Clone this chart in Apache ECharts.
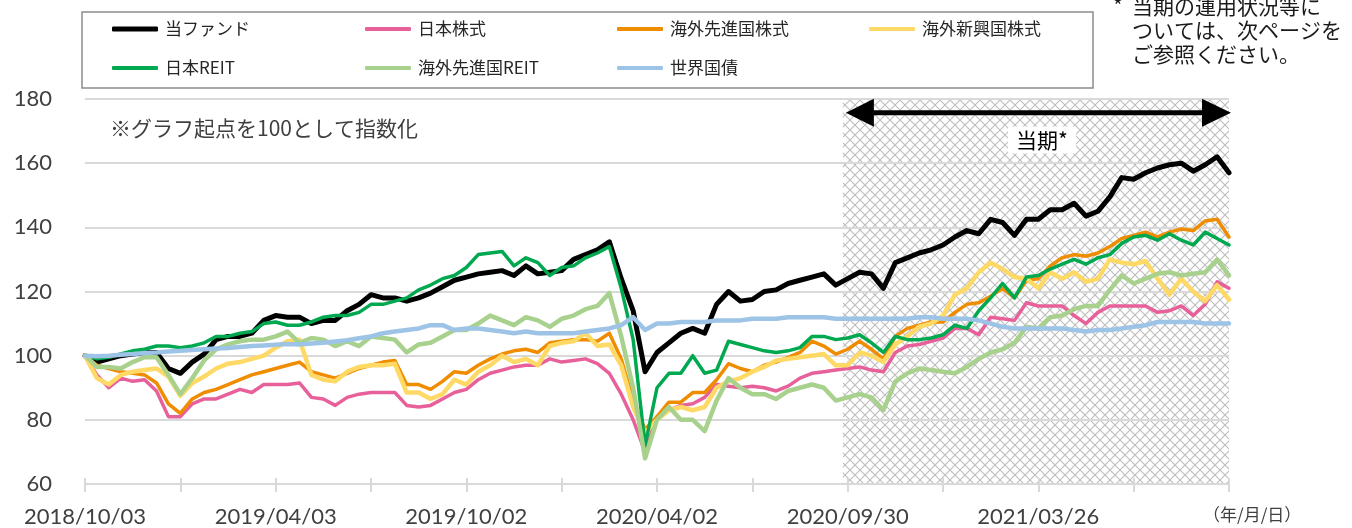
<!DOCTYPE html>
<html><head><meta charset="utf-8">
<script src="https://cdn.jsdelivr.net/npm/echarts@6/dist/echarts.min.js"></script>
<style>html,body{margin:0;padding:0;background:#fff}#c{width:1352px;height:528px}</style>
</head><body><div id="c"></div>
<script>
// x positions are sample indices (0..96); labelled ticks every 16 samples
const labelIndex = [0, 16, 32, 48, 64, 80];
const labelText = ['2018/10/03', '2019/04/03', '2019/10/02', '2020/04/02', '2020/09/30', '2021/03/26'];
const yTicks = [60, 80, 100, 120, 140, 160, 180];
const periodStart = 63.6, periodEnd = 96;  // 当期 (hatched span)
const arrowLevel = 175.7;

const seriesNames = ['当ファンド', '日本株式', '海外先進国株式', '海外新興国株式', '日本REIT', '海外先進国REIT', '世界国債'];

const fund = [100,98,99,100,100.5,101,101,96,94.5,98,100.5,105,106,106,107,111,112.5,112,112,110,111,111,114,116,
119,118,118,117,118,119.5,121.5,123.5,124.5,125.5,126,126.5,125,128,125.5,126,126.5,130,131.5,133,135.5,124,114,95,
101,104,107,108.5,107,116,120,117,117.5,120,120.5,122.5,123.5,124.5,125.5,122,124,126,125.5,121,129,130.5,132,133,
134.5,137,139,138,142.5,141.5,137.5,142.5,142.5,145.5,145.5,147.5,143.5,145,149.5,155.5,155,157,158.5,159.5,160,157.5,159.5,162,157];

const jpStock = [100,94,90,93,92,92.5,89,81,81,85,86.5,86.5,88,89.5,88.5,91,91,91,91.5,87,86.5,84.5,87,88,
88.5,88.5,88.5,84.5,84,84.5,86.5,88.5,89.5,92.5,94.5,95.5,96.5,97,97,99,98,98.5,99,97.5,94.5,88,80,70,
81,83,84.5,85,87,91,90.5,90,90.5,90,89,90.5,93,94.5,95,95.5,96,96.5,95.5,95,101,103,103.5,104.5,
105.5,108.5,108.5,106.5,112,111.5,111,116.5,115.5,115.5,115.5,112.5,110,113.5,115.5,115.5,115.5,115.5,113.5,114,115.5,112.5,116,123,121];

const devStock = [100,97,96,95,94.5,94,91.5,85,82,86.5,88.5,89.5,91,92.5,94,95,96,97,98,95,94,93,94.5,96,
97,98,98.5,91,91,89.5,92,95,94.5,97,99,100.5,101.5,102,101,104,104.5,105,105,104.5,107,99,86,77,
81,85.5,85.5,88.5,88.5,92.5,97.5,96,95,97,98,99.5,101,104.5,103,100.5,102,104.5,102,99,106,108.5,109.5,110.5,
110.5,113.5,116,116.5,118.5,121,118,123.5,124,128,130.5,131.5,131,132,134,136.5,137.5,138.5,137,138.5,139.5,139,142,142.5,137];

const emStock = [100,93,91,94,95,95.5,96,93.5,87.5,91.5,93.5,96,97.5,98,99,100,102.5,104.5,105,94,92.5,92,95,96.5,
97,97,97.5,88.5,88.5,86.5,88,92.5,91,95,97,100,98,99,97,103,104,104.5,107,103,103.5,97,84,76,
80,83,84,83,84,90,92,93,95,96.5,98.5,99,99.5,100,100.5,97,97,101,100,98,103.5,106,109,110,
112.5,119,121,126,129,127,124.5,124,121,126,124,126,123,124,130,129,128.5,129.5,124,119,124,120,117,122,117.5];

const jpReit = [100,99,99.5,100.5,101.5,102,103,103,102.5,103,104,106,106,107,107.5,110,110.5,109.5,109.5,110.5,112,112.5,112.5,113.5,
116,116,117,118,120.5,122,124,125,127.5,131.5,132,132.5,128,130.5,129,125,127.5,128,130.5,132,134,121,105,72,
90,94.5,94.5,100,94.5,95.5,104.5,103.5,102.5,101.5,101,101.5,102.5,106,106,105,105.5,106.5,104,101,106,105,105,105.5,
106.5,109.5,108.5,114,118,122.5,118,124.5,125,127,128.5,130,128.5,130.5,131.5,135,137,137.5,136,138,136,134.5,138.5,136.5,134.5];

const devReit = [100,96.5,96.5,96,98,99.5,99.5,94,88,93,98.5,102,103.5,104.5,105,105,106,107.5,104,105.5,105,103,104.5,103,
106,105.5,105,101,103.5,104,106,108,108,110,112.5,111,109.5,112,111,109,111.5,112.5,114.5,115.5,119.5,106,90,68,
80,84,80,80,76.5,86,93,90,88,88,86.5,89,90,91,90,86,87,88,87,83,92,94.5,96,95.5,
95,94.5,96.5,99,101,102,104,109,108.5,112,112.5,114.5,115.5,115.5,120.5,125,122.5,124,125.5,126,125,125.5,126,130,125];

const wgb = [100,99.8,100,100.3,100.5,100.8,101,101.3,101.5,101.8,102,102.2,102.4,102.7,103,103.2,103.4,103.6,103.5,103.8,104,104.4,104.8,105.4,
106,107,107.5,108,108.5,109.5,109.5,108,108.5,108.5,108,107.5,107,107.5,107,107,107,107,107.5,108,108.5,109.5,112,108,
110,110,110.5,110.5,110.5,111,111,111,111.5,111.5,111.5,112,112,112,112,111.5,111.5,111.5,111.5,111.5,111.5,111.5,112,112,
111.5,111.5,111.5,111,110,109,108.5,108.5,108.5,108.5,108.5,108,107.5,108,108,108.5,109,109.5,110.5,110.5,110.5,110.5,110,110,110];

const seriesValues = [fund, jpStock, devStock, emStock, jpReit, devReit, wgb];
const seriesColors = ['#000000', '#E8609A', '#F08C00', '#FFD966', '#00A850', '#A9D18E', '#9DC3E6'];
const seriesWidths = [5, 3.5, 3.5, 4.5, 3.5, 4.5, 4.5];
const legendLeft = [112, 365, 617, 869, 112, 365, 617];
const legendTop = [19, 19, 19, 19, 58, 58, 58];

const NUM_FONT = 'Lato, "Liberation Sans", sans-serif';
const JP_FONT = '"Noto Sans CJK JP", sans-serif';

const chart = echarts.init(document.getElementById('c'));

const option = {
  animation: false,
  grid: { left: 85, right: 123, top: 99, bottom: 43 },
  xAxis: [{
    type: 'value', min: 0, max: 96, interval: 8,
    axisLine: { show: true, onZero: false, lineStyle: { color: '#d9d9d9', width: 2 } },
    axisTick: { show: true, length: 8, lineStyle: { color: '#d9d9d9', width: 2 } },
    axisLabel: {
      margin: 22, fontSize: 22, color: '#404040', fontFamily: NUM_FONT,
      formatter: v => { const k = labelIndex.indexOf(Math.round(v)); return k >= 0 ? labelText[k] : ''; }
    },
    splitLine: { show: false }
  }, {
    type: 'value', min: 0, max: 96, interval: 8, position: 'bottom',
    axisLine: { show: false, onZero: false },
    axisTick: { show: true, inside: true, length: 6, lineStyle: { color: '#d9d9d9', width: 2 } },
    axisLabel: { show: false }, splitLine: { show: false }
  }],
  yAxis: {
    type: 'value', min: yTicks[0], max: yTicks[yTicks.length - 1], interval: 20,
    axisLine: { show: false }, axisTick: { show: false },
    axisLabel: { margin: 33, fontSize: 22, color: '#404040', fontFamily: NUM_FONT },
    splitLine: { lineStyle: { color: '#d9d9d9', width: 2 } }
  },
  legend: seriesNames.map((n, i) => ({
    left: legendLeft[i], top: legendTop[i], padding: 0, itemGap: 0,
    itemWidth: 46, itemHeight: i === 0 ? 5 : 4, icon: 'roundRect',
    selectedMode: false, data: [n],
    itemStyle: { borderWidth: 0 },
    textStyle: { fontSize: 17, lineHeight: 20, color: '#262626', fontFamily: JP_FONT, padding: [0, 0, 0, 2] }
  })),
  series: seriesNames.map((n, i) => ({
    name: n, type: 'line', symbol: 'none', silent: true,
    color: seriesColors[i],
    itemStyle: { color: seriesColors[i] },
    lineStyle: { color: seriesColors[i], width: seriesWidths[i], join: 'round', cap: 'round' },
    data: seriesValues[i].map((v, k) => [k, v])
  }))
};
chart.setOption(option);

// hatch pattern for the current period
const T = 10;
const pc = document.createElement('canvas');
pc.width = T; pc.height = T;
const g = pc.getContext('2d');
g.strokeStyle = '#bdbdbd'; g.lineWidth = 1.1;
g.beginPath();
g.moveTo(-1, -1); g.lineTo(T + 1, T + 1);
g.moveTo(T + 1, -1); g.lineTo(-1, T + 1);
g.stroke();

const p0 = chart.convertToPixel({ xAxisIndex: 0, yAxisIndex: 0 }, [periodStart, 180]);
const p1 = chart.convertToPixel({ xAxisIndex: 0, yAxisIndex: 0 }, [periodEnd, 60]);
const pa = chart.convertToPixel({ xAxisIndex: 0, yAxisIndex: 0 }, [periodStart, arrowLevel]);
const xs = p0[0], xe = p1[0], ya = pa[1];
const midX = (xs + xe) / 2 + 6;

chart.setOption({
  graphic: [
    { type: 'rect', z: -1, silent: true, shape: { x: xs, y: p0[1], width: xe - xs, height: p1[1] - p0[1] },
      style: { fill: { image: pc, repeat: 'repeat' } } },
    { type: 'rect', silent: true, shape: { x: 82, y: 12, width: 1011, height: 76 },
      style: { fill: null, stroke: '#8c8c8c', lineWidth: 1.5 } },
    { type: 'rect', z: 10, silent: true, shape: { x: xs + 20, y: ya - 2.5, width: xe - xs - 40, height: 5 }, style: { fill: '#000' } },
    { type: 'polygon', z: 10, silent: true, shape: { points: [[xs + 3, ya], [xs + 31, ya - 14], [xs + 31, ya + 14]] }, style: { fill: '#000' } },
    { type: 'polygon', z: 10, silent: true, shape: { points: [[xe + 2, ya], [xe - 27, ya - 14], [xe - 27, ya + 14]] }, style: { fill: '#000' } },
    { type: 'text', z: 11, silent: true, x: midX, y: 140,
      style: { text: '当期*', fontSize: 21, fontFamily: JP_FONT, fill: '#000', align: 'center', verticalAlign: 'middle',
        backgroundColor: '#fff', padding: [3, 8, 3, 8] } },
    { type: 'text', silent: true, x: 110, y: 128,
      style: { text: '※グラフ起点を100として指数化', fontSize: 21, fontFamily: JP_FONT, fill: '#404040', verticalAlign: 'middle' } },
    { type: 'text', silent: true, x: 1203, y: 515,
      style: { text: '（年/月/日）', fontSize: 17, fontFamily: JP_FONT, fill: '#404040', verticalAlign: 'middle' } },
    { type: 'text', silent: true, x: 1113, y: 6,
      style: { text: '*', fontSize: 21, fontFamily: JP_FONT, fill: '#1a1a1a', verticalAlign: 'middle' } },
    { type: 'text', silent: true, x: 1132, y: 6,
      style: { text: '当期の運用状況等に', fontSize: 21, fontFamily: JP_FONT, fill: '#1a1a1a', verticalAlign: 'middle' } },
    { type: 'text', silent: true, x: 1132, y: 30,
      style: { text: 'ついては、次ページを', fontSize: 21, fontFamily: JP_FONT, fill: '#1a1a1a', verticalAlign: 'middle' } },
    { type: 'text', silent: true, x: 1132, y: 54,
      style: { text: 'ご参照ください。', fontSize: 21, fontFamily: JP_FONT, fill: '#1a1a1a', verticalAlign: 'middle' } }
  ]
});
</script></body></html>
